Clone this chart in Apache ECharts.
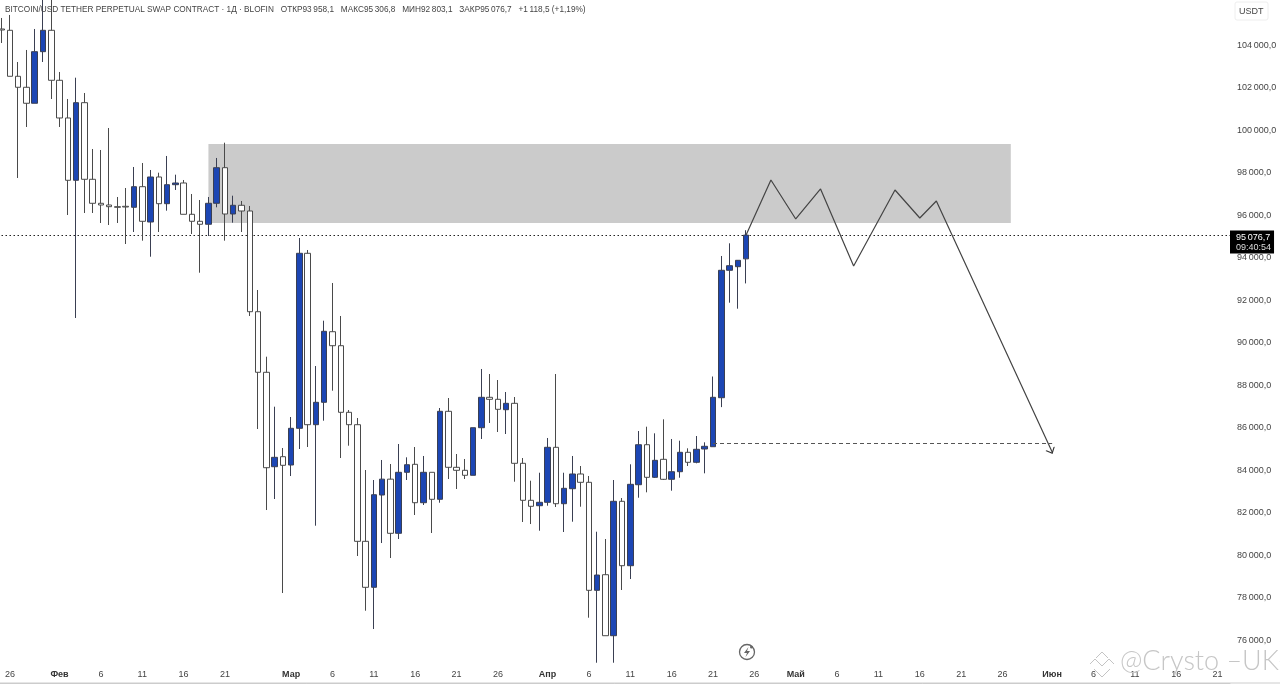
<!DOCTYPE html>
<html><head><meta charset="utf-8">
<style>html,body{margin:0;padding:0;background:#fff}#c{width:1280px;height:684px}</style>
<script src="https://cdn.jsdelivr.net/npm/echarts@6/dist/echarts.min.js"></script>
</head><body><div id="c"></div>
<script>
// One row per day from 25 Jan: open, close, low, high
const candles = [
[104776,104729,104117,105294],[104715,102550,102550,105435],[102550,102033,97764,103223],[102033,101280,100164,103788],
[101280,103708,101280,104776],[103708,104715,103223,106612],[104715,102362,101482,106376],
[102362,100588,100164,102753],[100588,97656,96023,101482],[97656,101308,91176,102484],[101308,97703,96117,101764],
[97703,96574,96117,99129],[96574,96494,95647,99082],[96494,96414,95552,100117],[96414,96385,95647,96870],
[96432,96399,94658,97294],[96385,97355,95223,98282],[97355,95727,94814,98470],[95693,97811,94060,98141],
[97811,96555,95223,98014],[96555,97449,96226,98800],[97449,97529,97200,97920],[97529,96056,96056,97670],
[96056,95727,95129,97011],[95727,95586,93307,96729],[95586,96574,95035,96870],[96574,98249,96385,98706],
[98249,96070,94814,99425],[96070,96480,95661,96931],[96480,96211,95223,96682],[96211,91472,91270,96447],
[91472,88621,85952,92494],[88621,84131,82140,89355],[84178,84620,82658,87002],[84649,84244,78234,85058],
[84258,85985,83740,86517],[85985,94221,85011,94941],[94221,86155,85105,94376],[86155,87209,81402,88917],
[87209,90550,86343,91049],[90531,89872,87755,92823],[89872,86738,84587,91270],[86738,86155,85167,86846],
[86155,80667,79976,86470],[80667,78503,77401,84023],[78503,82860,76540,83552],[82846,83593,80587,84494],
[83593,81044,79881,84305],[81044,83915,80775,85246],[83915,84272,83552,84620],[84291,82484,81905,85105],
[82484,83915,82376,84682],[83915,82644,81058,83915],[82644,86785,82484,86940],[86785,84150,83599,87411],
[84150,84009,83129,84776],[84009,83774,83599,84541],[83774,86013,83774,86013],[86013,87444,85482,88776],
[87444,87350,86235,88540],[87350,86879,85811,88258],[86860,87161,85717,87693],[87161,84338,83472,87458],
[84338,82597,81576,84587],[82597,82315,81480,83519],[82343,82503,81166,83895],[82503,85091,82343,85529],
[85091,82437,82282,88540],[82437,83161,81105,83895],[83143,83835,81590,84682],[83835,83444,82296,84211],
[83444,78361,77072,83741],[78361,79081,74954,81119],[79096,76225,76225,80776],[76225,82550,74954,83552],
[82550,79519,78376,82705],[79519,83349,78893,84291],[83331,85213,82719,85858],[85213,83679,82973,86061],
[83679,84479,83646,85749],[84526,83585,83552,86409],[83585,83943,83049,85482],[83943,84856,83660,85402],
[84856,84385,84211,85044],[84385,84997,84338,85623],[85011,85138,83867,85326],[85119,87444,85119,88423],
[87425,93421,86982,94094],[93421,93637,91896,94691],[93590,93891,91614,93905],[93958.1,95076.7,92803.1,95306.8]
];
const monthNames = ['Янв','Фев','Мар','Апр','Май','Июн'];
const dayCount = 149;
const tickDays = {'0-26':1,'1-6':1,'1-11':1,'1-16':1,'1-21':1,'2-6':1,'2-11':1,'2-16':1,'2-21':1,'2-26':1,
 '3-6':1,'3-11':1,'3-16':1,'3-21':1,'3-26':1,'4-6':1,'4-11':1,'4-16':1,'4-21':1,'4-26':1,'5-6':1,'5-11':1,'5-16':1,'5-21':1};
const priceTicks = [76000,78000,80000,82000,84000,86000,88000,90000,92000,94000,96000,98000,100000,102000,104000];
const zoneTop = 99360, zoneBottom = 95650;
const lastClose = 95076.7, targetLevel = 85290;
// projected path: [day index, price]
const pathPoints = [[90,95077],[93,97670],[96,95835],[99,97247],[103,93623],[108,97200],[111,95882],[113,96682],[127,84870]];

const dates = [];
for (let i=0;i<dayCount;i++){const d=new Date(Date.UTC(2025,0,25+i));dates.push(d.getUTCMonth()+'-'+d.getUTCDate());}
const pathData = dates.map(()=>null);
pathPoints.forEach(p=>pathData[p[0]]=p[1]);
const fmtPrice = v => { const s=v.toFixed(1).replace('.',','); const [a,b]=s.split(','); return a.slice(0,-3)+'\u2009'+a.slice(-3)+','+b; };
const isTick = n => { const [m,d]=n.split('-'); return d==='1'||tickDays[n]; };
const font = '"Liberation Sans","Noto Sans",sans-serif';

const chart = echarts.init(document.getElementById('c'),null,{renderer:'canvas'});
chart.setOption({
 animation:false,
 backgroundColor:'#fff',
 title:{text:'BITCOIN/USD TETHER PERPETUAL SWAP CONTRACT · 1Д · BLOFIN   ОТКР93\u2009958,1   МАКС95\u2009306,8   МИН92\u2009803,1   ЗАКР95\u2009076,7   +1\u2009118,5 (+1,19%)',
   left:5,top:6,padding:0,textStyle:{fontFamily:font,fontSize:8.25,fontWeight:'normal',color:'#444'}},
 grid:{left:-2.5,right:50,top:0,bottom:1,outerBoundsMode:'none',containLabel:false},
 xAxis:{type:'category',data:dates,boundaryGap:true,
   axisLine:{show:true,lineStyle:{color:'#ccc'}},axisTick:{show:false},splitLine:{show:false},
   axisLabel:{inside:true,margin:4,interval:(i,n)=>!!isTick(n),hideOverlap:false,color:'#444',fontFamily:font,fontSize:9,
     formatter:n=>{const [m,d]=n.split('-');return d==='1'?'{m|'+monthNames[+m]+'}':d;},
     rich:{m:{fontWeight:'bold',fontSize:9,color:'#333',fontFamily:font}}}},
 yAxis:{type:'value',position:'right',min:74000,max:106140,scale:true,
   axisLine:{show:false},axisTick:{show:false},splitLine:{show:false},
   axisLabel:{customValues:priceTicks,formatter:v=>fmtPrice(v),color:'#444',fontFamily:font,fontSize:9,margin:7}},
 series:[
  {type:'candlestick',name:'BTC',data:candles,barWidth:6,z:3,
   itemStyle:{color:'#1c46b4',color0:'#fff',borderColor:'#3a3f52',borderColor0:'#4a4a4a',borderWidth:1},
   markArea:{silent:true,z:1,itemStyle:{color:'#cbcbcb'},data:[[{xAxis:'1-19',yAxis:zoneTop},{xAxis:'4-27',yAxis:zoneBottom}]]},
   markLine:{silent:true,symbol:'none',animation:false,z:2,
     lineStyle:{color:'#222',type:[1.5,2.5],width:1},
     data:[{yAxis:lastClose}],
     label:{show:true,position:'end',distance:0,offset:[0,7],formatter:()=>'{a|'+fmtPrice(lastClose)+'}\n{b|09:40:54}',
       backgroundColor:'#000',padding:[1,3,1,6],
       rich:{a:{color:'#fff',fontSize:9,lineHeight:11,fontFamily:font},b:{color:'#ddd',fontSize:9,lineHeight:10,fontFamily:font}}}}},
  {type:'line',name:'Path',data:pathData,connectNulls:true,showSymbol:false,symbol:'none',z:4,silent:true,
   lineStyle:{color:'#444',width:1.2},
   markLine:{silent:true,symbol:'none',animation:false,label:{show:false},
     lineStyle:{color:'#555',type:[4,3],width:1},
     data:[[{xAxis:'3-21',yAxis:targetLevel},{xAxis:'5-1',yAxis:targetLevel}]]}},
  {type:'line',name:'Arrow',data:pathPoints.slice(-2).reduce((a,p)=>{a[p[0]]=p[1];return a;},dates.map(()=>null)),connectNulls:true,z:4,silent:true,
   showSymbol:false,symbol:'none',lineStyle:{width:0},
   markPoint:{silent:true,symbol:'path://M0 0L10 12L20 0',symbolSize:[9,5],symbolRotate:25,symbolOffset:[-1,-1],
     itemStyle:{color:'transparent',borderColor:'#333',borderWidth:1},label:{show:false},
     data:[{xAxis:'5-1',yAxis:84870}]}}
 ],
 graphic:[
  {type:'rect',shape:{x:1235,y:2,width:33,height:18,r:2},style:{fill:'#fff',stroke:'#eee'},z:5},
  {type:'text',x:1239,y:7,style:{text:'USDT',fontFamily:font,fontSize:9,fill:'#444'},z:6},
  {type:'line',shape:{x1:0,y1:683,x2:1280,y2:683},style:{stroke:'#ccc',lineWidth:1},z:6},
  {type:'circle',shape:{cx:747,cy:652,r:7.5},style:{fill:'#fff',stroke:'#666',lineWidth:1.3},z:6},
  {type:'polygon',shape:{points:[[748.5,647],[744,653],[747,653],[745.5,657],[750,651],[747,651]]},style:{fill:'#666'},z:6},
  {type:'circle',shape:{cx:751.5,cy:647,r:1.5},style:{fill:'#666'},z:7},
  {type:'text',x:1120,y:648,style:{text:'@Crysto –UK—',fontFamily:'Lato,"Open Sans",sans-serif',fontWeight:300,fontSize:27,fill:'#c6c6c6'},z:6},
  {type:'polyline',shape:{points:[[1096,658],[1102,652],[1108,658]]},style:{stroke:'#c4c4c4',fill:'none',lineWidth:1},z:6},
  {type:'polyline',shape:{points:[[1090,664],[1095,659],[1102,666],[1109,659],[1114,664]]},style:{stroke:'#c4c4c4',fill:'none',lineWidth:1},z:6},
  {type:'polyline',shape:{points:[[1094,669],[1102,677],[1110,669]]},style:{stroke:'#c4c4c4',fill:'none',lineWidth:1},z:6}
 ]
});
</script></body></html>
